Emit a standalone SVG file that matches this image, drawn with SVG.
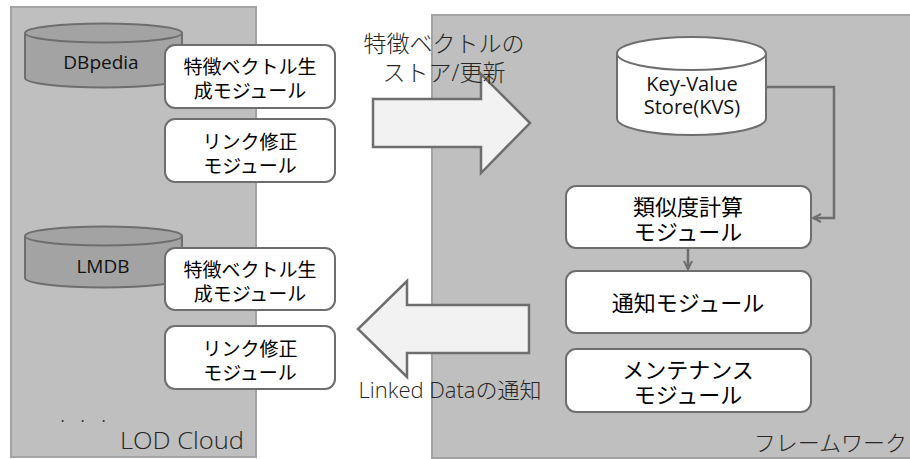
<svg xmlns="http://www.w3.org/2000/svg" width="910" height="459" viewBox="0 0 910 459">
<style>
.panel{fill:#bfbfbf;stroke:#a3a3a3;stroke-width:2}
.db{fill:#a3a3a3;stroke:#6e6e6e;stroke-width:2}
.kvs{fill:#ffffff;stroke:#6e6e6e;stroke-width:2}
.box{fill:#ffffff;stroke:#6e6e6e;stroke-width:2}
.bigarrow{fill:#f2f2f2;stroke:#6e6e6e;stroke-width:2.5}
.conn{fill:none;stroke:#6e6e6e;stroke-width:2.5}
.mod{font-family:"Noto Sans CJK JP",sans-serif;font-weight:400;fill:#000;text-anchor:middle}
.lat{font-family:"Open Sans","Noto Sans CJK JP",sans-serif;font-weight:400;fill:#111;text-anchor:middle}
.lbl{font-family:"Open Sans","Noto Sans CJK JP",sans-serif;font-weight:300;fill:#262626}
</style>
<defs>
<marker id="chev" viewBox="0 0 10 10" refX="9" refY="5" markerWidth="10" markerHeight="10" markerUnits="userSpaceOnUse" orient="auto">
<path d="M1,1 L9,5 L1,9" fill="none" stroke="#6e6e6e" stroke-width="2"/>
</marker>
</defs>

<g id="lod-cloud">
<rect class="panel" x="11" y="7" width="245" height="450"/>
<text class="lbl" x="60 80 101" y="422" font-size="22" fill="#111">...</text>
<text class="lbl" x="120" y="449" font-size="23" textLength="124" lengthAdjust="spacingAndGlyphs">LOD Cloud</text>
</g>

<g id="framework">
<rect class="panel" x="432" y="15" width="480" height="443"/>
<text class="lbl" x="907" y="451" font-size="22" text-anchor="end">フレームワーク</text>
</g>

<g id="dbpedia">
<path class="db" d="M25,33 L25,78 A78.5,9.5 0 0 0 182,78 L182,33"/>
<ellipse class="db" cx="103.5" cy="33" rx="78.5" ry="9.5"/>
<text class="lat" x="101" y="69" font-size="19">DBpedia</text>
</g>

<g id="fv-module-1">
<rect class="box" x="165" y="45" width="170" height="63" rx="10"/>
<text class="mod" font-size="19"><tspan x="250" y="74">特徴ベクトル生</tspan><tspan x="250" y="98">成モジュール</tspan></text>
</g>

<g id="link-module-1">
<rect class="box" x="165" y="119" width="170" height="63" rx="10"/>
<text class="mod" font-size="19"><tspan x="250" y="149">リンク修正</tspan><tspan x="250" y="173">モジュール</tspan></text>
</g>

<g id="lmdb">
<path class="db" d="M25,236 L25,278 A78.5,9.5 0 0 0 182,278 L182,236"/>
<ellipse class="db" cx="103.5" cy="236" rx="78.5" ry="9.5"/>
<text class="lat" x="103" y="273" font-size="19">LMDB</text>
</g>

<g id="fv-module-2">
<rect class="box" x="165" y="248" width="170" height="62" rx="10"/>
<text class="mod" font-size="19"><tspan x="250" y="277">特徴ベクトル生</tspan><tspan x="250" y="301">成モジュール</tspan></text>
</g>

<g id="link-module-2">
<rect class="box" x="165" y="326" width="170" height="63" rx="10"/>
<text class="mod" font-size="19"><tspan x="250" y="356">リンク修正</tspan><tspan x="250" y="380">モジュール</tspan></text>
</g>

<g id="arrow-store">
<polygon class="bigarrow" points="373,99 481,99 481,74 530,123 481,173 481,147 373,147"/>
<text class="lbl" font-size="23" text-anchor="middle"><tspan x="444" y="52">特徴ベクトルの</tspan><tspan x="444" y="81">ストア/更新</tspan></text>
</g>

<g id="arrow-notify">
<polygon class="bigarrow" points="529,305 407,305 407,281 358,329 407,377 407,353 529,353"/>
<text class="lbl" x="450" y="398" font-size="22" text-anchor="middle">Linked Dataの通知</text>
</g>

<g id="kvs">
<path class="kvs" d="M617,53.5 L617,118.5 A74.5,16.5 0 0 0 766,118.5 L766,53.5"/>
<ellipse class="kvs" cx="691.5" cy="53.5" rx="74.5" ry="16.5"/>
<text class="lat" font-size="20"><tspan x="692" y="91">Key-Value</tspan><tspan x="692" y="114">Store(KVS)</tspan></text>
</g>

<g id="similarity-module">
<rect class="box" x="566" y="186" width="245" height="62" rx="10"/>
<text class="mod" font-size="22"><tspan x="688" y="215">類似度計算</tspan><tspan x="688" y="240">モジュール</tspan></text>
</g>

<g id="notify-module">
<rect class="box" x="566" y="271" width="245" height="62" rx="10"/>
<text class="mod" x="688" y="311" font-size="22">通知モジュール</text>
</g>

<g id="maintenance-module">
<rect class="box" x="566" y="349" width="245" height="63" rx="10"/>
<text class="mod" font-size="22"><tspan x="688" y="378">メンテナンス</tspan><tspan x="688" y="403">モジュール</tspan></text>
</g>

<g id="connectors">
<polyline class="conn" points="766,87 834,87 834,218 813,218" marker-end="url(#chev)"/>
<line class="conn" x1="688" y1="249" x2="688" y2="269" marker-end="url(#chev)"/>
</g>
</svg>
